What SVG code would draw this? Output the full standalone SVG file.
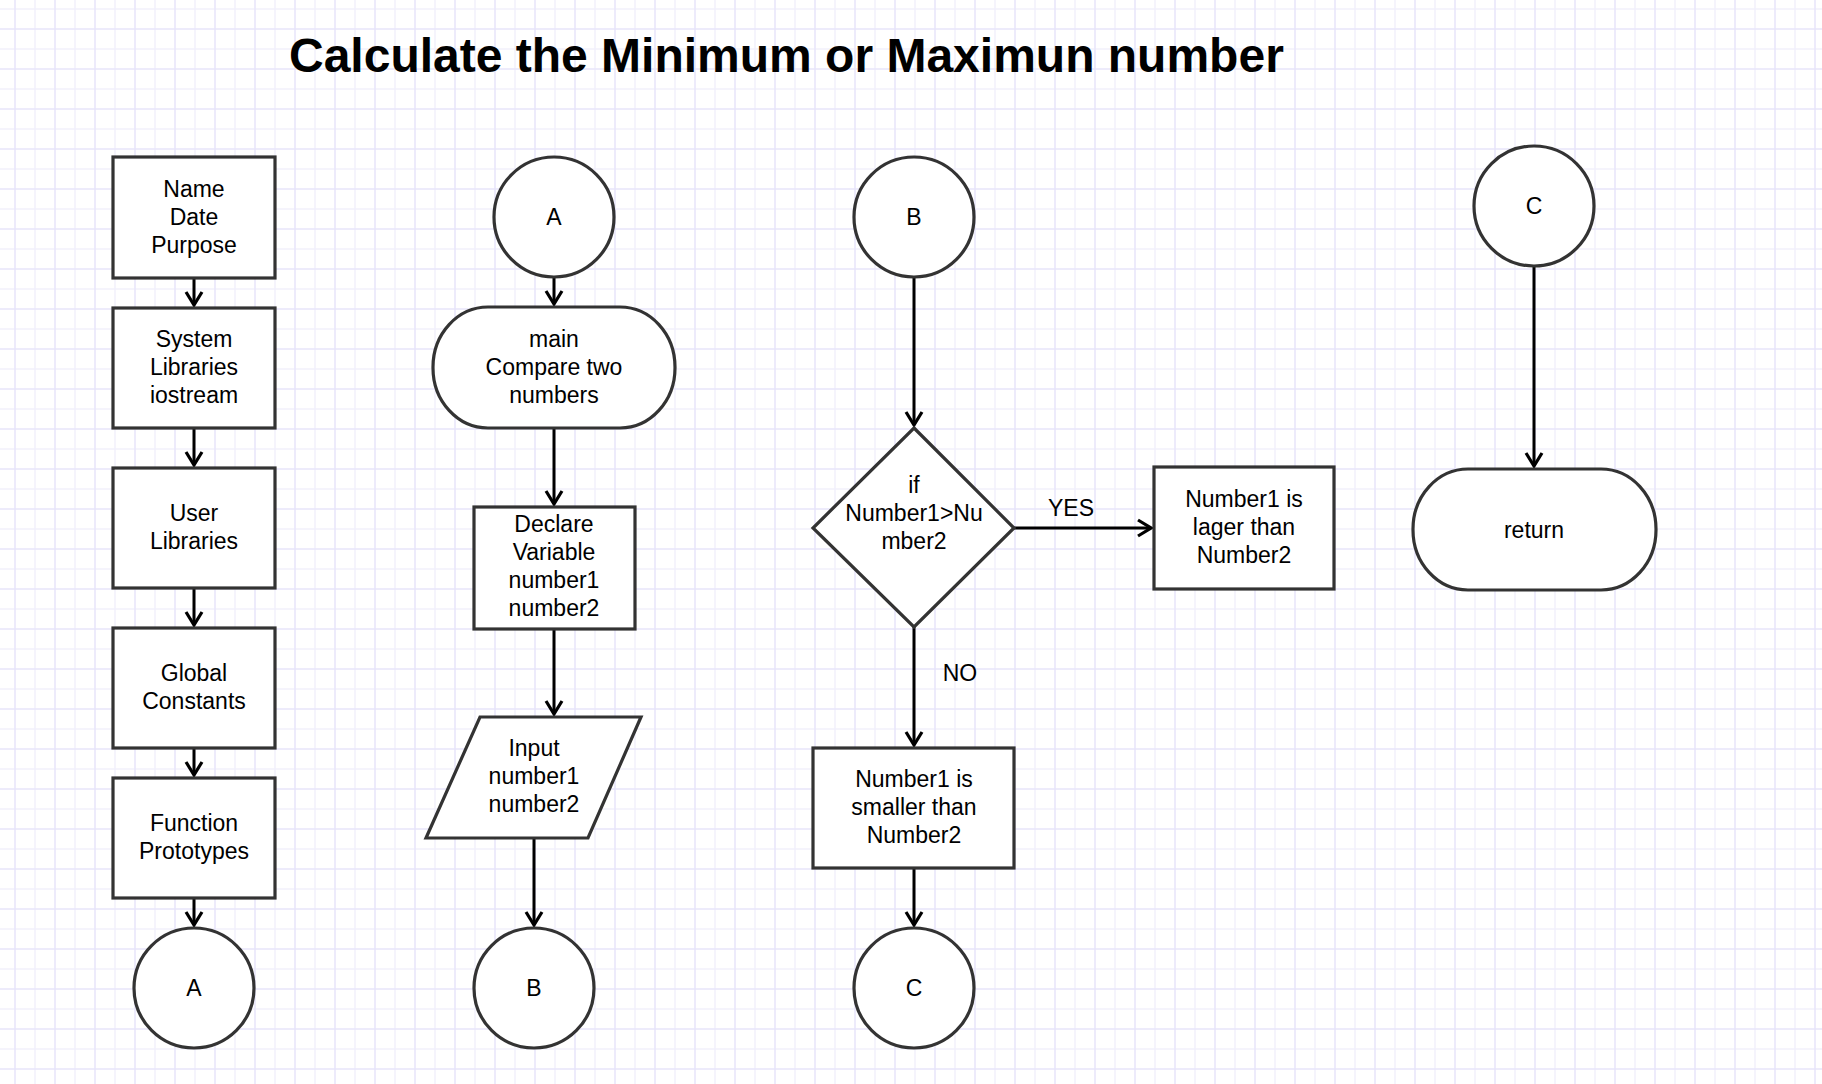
<svg xmlns="http://www.w3.org/2000/svg" width="1822" height="1084" viewBox="0 0 1822 1084">
<defs>
<style>
.n{fill:#fff;stroke:#333;stroke-width:3.2}
.t{font-family:"Liberation Sans",Arial,sans-serif;font-size:23px;fill:#000;text-anchor:middle}
.c{fill:none;stroke:#000;stroke-width:3}
.title{font-family:"Liberation Sans",Arial,sans-serif;font-size:48px;font-weight:bold;fill:#000}
</style>
<pattern id="grid" patternUnits="userSpaceOnUse" x="5" y="19" width="40" height="40">
<path d="M30,0V40M0,30H40" stroke="#f2f1fc" stroke-width="1.5" fill="none"/>
<path d="M10,0V40M0,10H40" stroke="#e7e5fa" stroke-width="1.5" fill="none"/>
</pattern>
<marker id="arr" viewBox="-16 -10 18 20" refX="0" refY="0" markerWidth="18" markerHeight="20" markerUnits="userSpaceOnUse" orient="auto">
<path d="M-13,-8 L0,0 L-13,8" fill="none" stroke="#000" stroke-width="3.2" stroke-linejoin="miter"/>
</marker>
</defs>
<rect width="1822" height="1084" fill="#fff"/>
<rect width="1822" height="1084" fill="url(#grid)"/>
<text class="title" x="289" y="72">Calculate the Minimum or Maximun number</text>

<g id="connectors">
<path class="c" marker-end="url(#arr)" d="M194,278V305"/>
<path class="c" marker-end="url(#arr)" d="M194,428V465"/>
<path class="c" marker-end="url(#arr)" d="M194,588V625"/>
<path class="c" marker-end="url(#arr)" d="M194,748V775"/>
<path class="c" marker-end="url(#arr)" d="M194,898V925"/>
<path class="c" marker-end="url(#arr)" d="M554,278V304"/>
<path class="c" marker-end="url(#arr)" d="M554,428V504"/>
<path class="c" marker-end="url(#arr)" d="M554,629V714"/>
<path class="c" marker-end="url(#arr)" d="M534,838V925"/>
<path class="c" marker-end="url(#arr)" d="M914,277V425"/>
<path class="c" marker-end="url(#arr)" d="M1014,528H1151"/>
<path class="c" marker-end="url(#arr)" d="M914,627V745"/>
<path class="c" marker-end="url(#arr)" d="M914,868V925"/>
<path class="c" marker-end="url(#arr)" d="M1534,266V466"/>
<text class="t" x="1071" y="516">YES</text>
<text class="t" x="960" y="681">NO</text>
</g>

<g id="header">
<rect class="n" x="113" y="157" width="162" height="121"/>
<text class="t" x="194" y="197">Name</text>
<text class="t" x="194" y="225">Date</text>
<text class="t" x="194" y="253">Purpose</text>
</g>
<g id="syslib">
<rect class="n" x="113" y="308" width="162" height="120"/>
<text class="t" x="194" y="347">System</text>
<text class="t" x="194" y="375">Libraries</text>
<text class="t" x="194" y="403">iostream</text>
</g>
<g id="userlib">
<rect class="n" x="113" y="468" width="162" height="120"/>
<text class="t" x="194" y="521">User</text>
<text class="t" x="194" y="549">Libraries</text>
</g>
<g id="globals">
<rect class="n" x="113" y="628" width="162" height="120"/>
<text class="t" x="194" y="681">Global</text>
<text class="t" x="194" y="709">Constants</text>
</g>
<g id="protos">
<rect class="n" x="113" y="778" width="162" height="120"/>
<text class="t" x="194" y="831">Function</text>
<text class="t" x="194" y="859">Prototypes</text>
</g>
<g id="connA1">
<circle class="n" cx="194" cy="988" r="60"/>
<text class="t" x="194" y="996">A</text>
</g>

<g id="connA2">
<circle class="n" cx="554" cy="217" r="60"/>
<text class="t" x="554" y="225">A</text>
</g>
<g id="main">
<rect class="n" x="433" y="307" width="242" height="121" rx="55" ry="60"/>
<text class="t" x="554" y="347">main</text>
<text class="t" x="554" y="375">Compare two</text>
<text class="t" x="554" y="403">numbers</text>
</g>
<g id="declare">
<rect class="n" x="474" y="507" width="161" height="122"/>
<text class="t" x="554" y="532">Declare</text>
<text class="t" x="554" y="560">Variable</text>
<text class="t" x="554" y="588">number1</text>
<text class="t" x="554" y="616">number2</text>
</g>
<g id="input">
<polygon class="n" points="480,717 641,717 588,838 426,838"/>
<text class="t" x="534" y="756">Input</text>
<text class="t" x="534" y="784">number1</text>
<text class="t" x="534" y="812">number2</text>
</g>
<g id="connB1">
<circle class="n" cx="534" cy="988" r="60"/>
<text class="t" x="534" y="996">B</text>
</g>

<g id="connB2">
<circle class="n" cx="914" cy="217" r="60"/>
<text class="t" x="914" y="225">B</text>
</g>
<g id="decision">
<polygon class="n" points="914,428 1014,528 914,627 813,528"/>
<text class="t" x="914" y="493">if</text>
<text class="t" x="914" y="521">Number1&gt;Nu</text>
<text class="t" x="914" y="549">mber2</text>
</g>
<g id="larger">
<rect class="n" x="1154" y="467" width="180" height="122"/>
<text class="t" x="1244" y="507">Number1 is</text>
<text class="t" x="1244" y="535">lager than</text>
<text class="t" x="1244" y="563">Number2</text>
</g>
<g id="smaller">
<rect class="n" x="813" y="748" width="201" height="120"/>
<text class="t" x="914" y="787">Number1 is</text>
<text class="t" x="914" y="815">smaller than</text>
<text class="t" x="914" y="843">Number2</text>
</g>
<g id="connC1">
<circle class="n" cx="914" cy="988" r="60"/>
<text class="t" x="914" y="996">C</text>
</g>

<g id="connC2">
<circle class="n" cx="1534" cy="206" r="60"/>
<text class="t" x="1534" y="214">C</text>
</g>
<g id="return">
<rect class="n" x="1413" y="469" width="243" height="121" rx="55" ry="60"/>
<text class="t" x="1534" y="538">return</text>
</g>
</svg>
